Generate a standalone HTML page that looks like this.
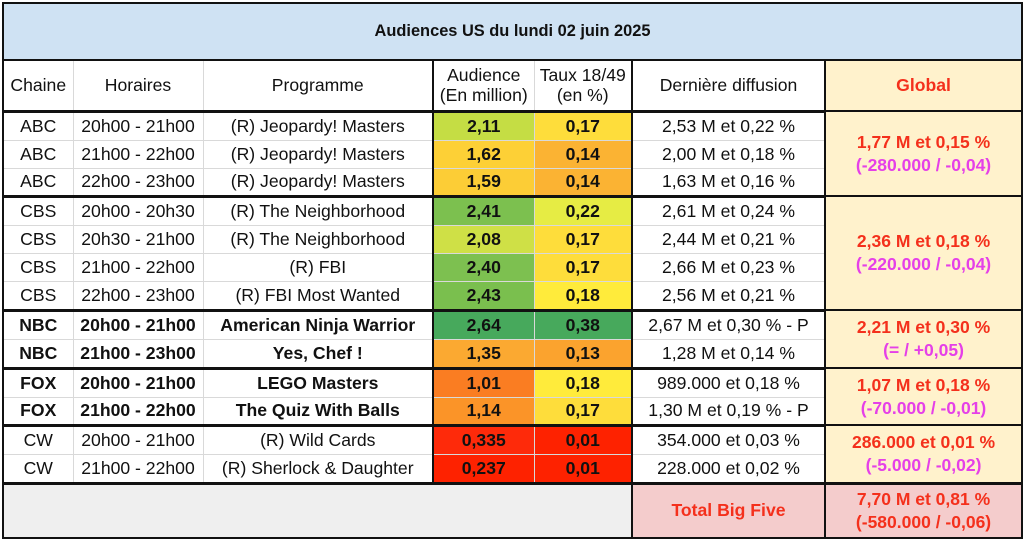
<!DOCTYPE html>
<html><head><meta charset="utf-8"><style>
body{margin:0;width:1023px;height:542px;background:#fff;font-family:"Liberation Sans",Arial,sans-serif;overflow:hidden}
table{position:absolute;left:2px;top:2px;border-collapse:collapse;table-layout:fixed;width:1019px}
td{border:1px solid #d9d9d9;text-align:center;font-size:17.6px;color:#111;padding:0;white-space:nowrap;overflow:hidden}
.b{font-weight:bold}
.g{background:#fff2cc;font-weight:bold;color:#f4301c;border:2px solid #111 !important;line-height:23px;font-size:17.5px}
.g span{color:#e540e8}
tr.top td{border-top:3px solid #111}
td.L{border-left:2px solid #111}
</style></head><body>
<table>
<colgroup><col style="width:70px"><col style="width:130px"><col style="width:230px"><col style="width:101px"><col style="width:98px"><col style="width:193px"><col style="width:197px"></colgroup>
<tr style="height:57px"><td colspan="7" class="b" style="background:#cfe2f3;border:2px solid #111;font-size:16.4px">Audiences US du lundi 02 juin 2025</td></tr>
<tr style="height:51px"><td class="L" style="border-top:2px solid #111">Chaine</td><td style="border-top:2px solid #111">Horaires</td><td style="border-top:2px solid #111">Programme</td><td style="line-height:20px;border-top:2px solid #111;border-left:2px solid #111">Audience<br>(En million)</td><td style="line-height:20px;border-top:2px solid #111">Taux 18/49<br>(en %)</td><td style="border-top:2px solid #111;border-left:2px solid #111">Dernière diffusion</td><td class="b" style="background:#fff2cc;color:#f4301c;border:2px solid #111">Global</td></tr>
<tr class="top" style="height:29px"><td class="L">ABC</td><td>20h00 - 21h00</td><td>(R) Jeopardy! Masters</td><td class="b L" style="background:#c5dd44">2,11</td><td class="b" style="background:#fedd3b">0,17</td><td class="L">2,53 M et 0,22 %</td><td rowspan="3" class="g">1,77 M et 0,15 %<br><span>(-280.000 / -0,04)</span></td></tr>
<tr style="height:28px"><td class="L">ABC</td><td>21h00 - 22h00</td><td>(R) Jeopardy! Masters</td><td class="b L" style="background:#fdd036">1,62</td><td class="b" style="background:#fbb333">0,14</td><td class="L">2,00 M et 0,18 %</td></tr>
<tr style="height:28px"><td class="L">ABC</td><td>22h00 - 23h00</td><td>(R) Jeopardy! Masters</td><td class="b L" style="background:#fccd36">1,59</td><td class="b" style="background:#fbb333">0,14</td><td class="L">1,63 M et 0,16 %</td></tr>
<tr class="top" style="height:29px"><td class="L">CBS</td><td>20h00 - 20h30</td><td>(R) The Neighborhood</td><td class="b L" style="background:#7cc04f">2,41</td><td class="b" style="background:#e6ec44">0,22</td><td class="L">2,61 M et 0,24 %</td><td rowspan="4" class="g">2,36 M et 0,18 %<br><span>(-220.000 / -0,04)</span></td></tr>
<tr style="height:28px"><td class="L">CBS</td><td>20h30 - 21h00</td><td>(R) The Neighborhood</td><td class="b L" style="background:#cfe046">2,08</td><td class="b" style="background:#fedd3b">0,17</td><td class="L">2,44 M et 0,21 %</td></tr>
<tr style="height:28px"><td class="L">CBS</td><td>21h00 - 22h00</td><td>(R) FBI</td><td class="b L" style="background:#7dc050">2,40</td><td class="b" style="background:#fedd3b">0,17</td><td class="L">2,66 M et 0,23 %</td></tr>
<tr style="height:29px"><td class="L">CBS</td><td>22h00 - 23h00</td><td>(R) FBI Most Wanted</td><td class="b L" style="background:#7abf4e">2,43</td><td class="b" style="background:#ffeb3b">0,18</td><td class="L">2,56 M et 0,21 %</td></tr>
<tr class="top" style="height:29px"><td class="L b">NBC</td><td class="b">20h00 - 21h00</td><td class="b">American Ninja Warrior</td><td class="b L" style="background:#47a95c">2,64</td><td class="b" style="background:#47a95c">0,38</td><td class="L">2,67 M et 0,30 % - P</td><td rowspan="2" class="g">2,21 M et 0,30 %<br><span>(= / +0,05)</span></td></tr>
<tr style="height:29px"><td class="L b">NBC</td><td class="b">21h00 - 23h00</td><td class="b">Yes, Chef !</td><td class="b L" style="background:#fba931">1,35</td><td class="b" style="background:#fba32e">0,13</td><td class="L">1,28 M et 0,14 %</td></tr>
<tr class="top" style="height:29px"><td class="L b">FOX</td><td class="b">20h00 - 21h00</td><td class="b">LEGO Masters</td><td class="b L" style="background:#fa7d22">1,01</td><td class="b" style="background:#ffeb3b">0,18</td><td class="L">989.000 et 0,18 %</td><td rowspan="2" class="g">1,07 M et 0,18 %<br><span>(-70.000 / -0,01)</span></td></tr>
<tr style="height:28px"><td class="L b">FOX</td><td class="b">21h00 - 22h00</td><td class="b">The Quiz With Balls</td><td class="b L" style="background:#fb9428">1,14</td><td class="b" style="background:#fedd3b">0,17</td><td class="L">1,30 M et 0,19 % - P</td></tr>
<tr class="top" style="height:29px"><td class="L">CW</td><td>20h00 - 21h00</td><td>(R) Wild Cards</td><td class="b L" style="background:#fe2a0a">0,335</td><td class="b" style="background:#fe2200">0,01</td><td class="L">354.000 et 0,03 %</td><td rowspan="2" class="g">286.000 et 0,01 %<br><span>(-5.000 / -0,02)</span></td></tr>
<tr style="height:29px"><td class="L">CW</td><td>21h00 - 22h00</td><td>(R) Sherlock &amp; Daughter</td><td class="b L" style="background:#fe2200">0,237</td><td class="b" style="background:#fe2200">0,01</td><td class="L">228.000 et 0,02 %</td></tr>
<tr style="height:55px"><td colspan="5" style="background:#efefef;border:2px solid #111;border-top:3px solid #111"></td><td class="b" style="background:#f4cccc;color:#f4301c;border:2px solid #111;border-top:3px solid #111">Total Big Five</td><td class="b" style="background:#f4cccc;color:#f4301c;border:2px solid #111;border-top:3px solid #111;line-height:23px;font-size:17.5px">7,70 M et 0,81 %<br>(-580.000 / -0,06)</td></tr>
</table>
</body></html>
